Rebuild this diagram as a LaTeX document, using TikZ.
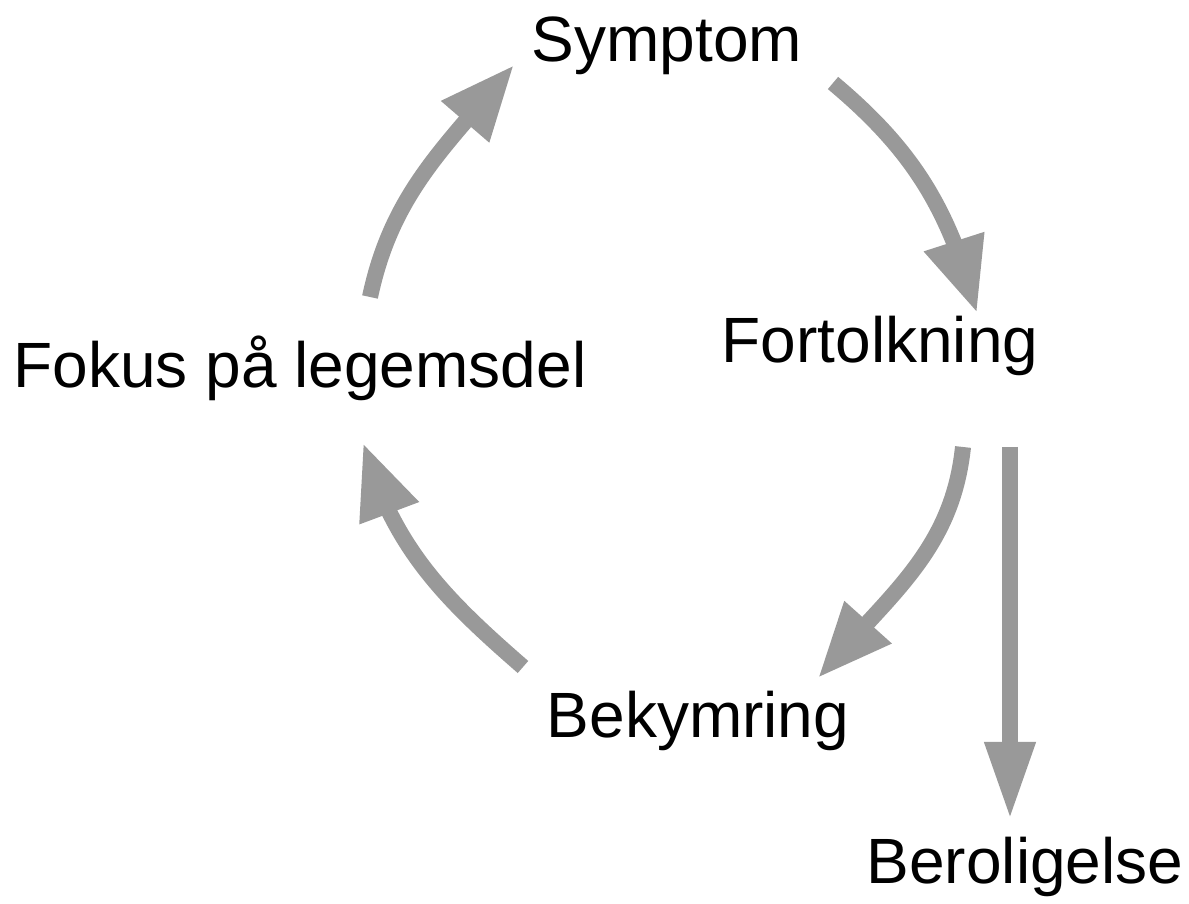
\documentclass[tikz,border=0pt]{standalone}
\usepackage{fontspec}
\setmainfont{Liberation Sans}
\usetikzlibrary{arrows.meta,bending}
\definecolor{arrgray}{HTML}{999999}
\tikzset{
  lbl/.style={inner sep=0pt, anchor=base, font=\fontsize{64}{76}\selectfont},
  cyclearr/.style={draw=arrgray, line width=16pt, -{Triangle[length=75pt, width=59pt, flex]}},
  straightarr/.style={draw=arrgray, line width=16pt, -{Triangle[length=78pt, width=47pt]}}
}
\begin{document}
\begin{tikzpicture}[x=1pt,y=1pt]
\useasboundingbox (0,0) rectangle (1189,904);
\node[lbl] (symptom) at (667,842) {Symptom};
\node[lbl] (fokus) at (300,516) {Fokus på legemsdel};
\node[lbl] (fortolk) at (880,541) {Fortolkning};
\node[lbl] (bekym) at (698,166) {Bekymring};
\node[lbl] (berol) at (1025,20) {Beroligelse};
\coordinate (a1s) at (370,607);
\coordinate (a1e) at (514,839);
\coordinate (a2s) at (833,821);
\coordinate (a2e) at (977,591);
\coordinate (a3s) at (963,457);
\coordinate (a3e) at (818,226);
\coordinate (a4s) at (523,237);
\coordinate (a4e) at (363,461);
\coordinate (a5s) at (1010,457);
\coordinate (a5e) at (1010,84);
\draw[cyclearr] (a1s) to[out=78, in=230] (a1e);
\draw[cyclearr] (a2s) to[out=-40, in=105] (a2e);
\draw[cyclearr] (a3s) to[out=264, in=50] (a3e);
\draw[cyclearr] (a4s) to[out=139, in=286] (a4e);
\draw[straightarr] (a5s) -- (a5e);
\end{tikzpicture}
\end{document}
